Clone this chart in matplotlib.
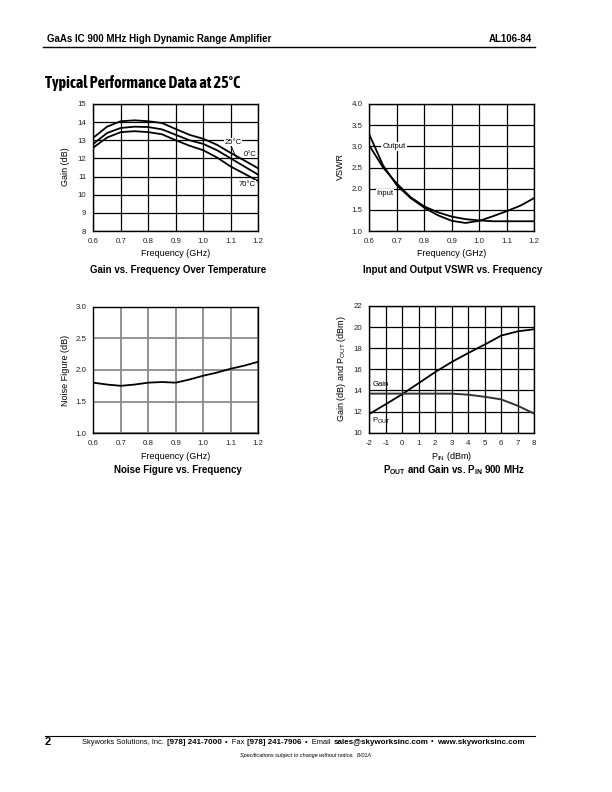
import numpy as np
import matplotlib
matplotlib.use("Agg")
import matplotlib.pyplot as plt
from matplotlib import font_manager

plt.rcParams['font.family'] = ['Liberation Sans', 'DejaVu Sans']

W, H = 612, 792

# --- data ---
freq = [0.6, 0.65, 0.7, 0.75, 0.8, 0.85, 0.9, 0.95, 1.0, 1.05, 1.1, 1.15, 1.2]
gain_25c = [13.14, 13.75, 14.05, 14.1, 14.05, 13.95, 13.62, 13.3, 13.08, 12.75, 12.3, 11.88, 11.45]
gain_0c = [12.8, 13.4, 13.68, 13.75, 13.73, 13.6, 13.3, 13.0, 12.8, 12.45, 12.0, 11.55, 11.1]
gain_70c = [12.6, 13.15, 13.45, 13.5, 13.45, 13.33, 13.0, 12.7, 12.45, 12.05, 11.55, 11.15, 10.75]

vswr_a = [3.28, 2.55, 2.08, 1.78, 1.55, 1.37, 1.24, 1.19, 1.24, 1.35, 1.47, 1.6, 1.78]
vswr_b = [3.02, 2.5, 2.12, 1.8, 1.58, 1.44, 1.34, 1.28, 1.25, 1.23, 1.23, 1.23, 1.23]

nf = [1.8, 1.77, 1.75, 1.77, 1.8, 1.81, 1.8, 1.85, 1.91, 1.96, 2.02, 2.07, 2.13]

pin = [-2, -1, 0, 1, 2, 3, 4, 5, 6, 7, 8]
pout = [11.77, 12.7, 13.65, 14.7, 15.75, 16.7, 17.55, 18.35, 19.2, 19.6, 19.8]
gain_pin = [13.7, 13.7, 13.7, 13.7, 13.7, 13.7, 13.6, 13.4, 13.15, 12.55, 11.8]

# a condensed face for the section title, if one is installed
narrow = None
for f in font_manager.fontManager.ttflist:
    if ('Narrow' in f.name or 'Condensed' in f.name) and f.weight in ('bold', 700):
        narrow = f.fname
        break
if narrow is None:
    for f in font_manager.fontManager.ttflist:
        if 'Narrow' in f.name or 'Condensed' in f.name:
            narrow = f.fname
            break

fig = plt.figure(figsize=(W / 100, H / 100), dpi=100)


def rect(l, t, r, b):
    return [l / W, 1 - b / H, (r - l) / W, (b - t) / H]


def ftext(x, y, s, **kw):
    kw.setdefault('va', 'center')
    return fig.text(x / W, 1 - y / H, s, **kw)


def setup(ax, xlim, ylim, xt, yt, xfmt, yfmt, gcol='black', glw=0.9):
    ax.set_xlim(*xlim)
    ax.set_ylim(*ylim)
    ax.set_xticks(xt)
    ax.set_yticks(yt)
    ax.set_xticklabels([xfmt.format(v) for v in xt])
    ax.set_yticklabels([yfmt.format(v) for v in yt])
    ax.tick_params(length=0, labelsize=5.7, pad=5, labelcolor='#222222')
    ax.grid(True, color=gcol, lw=glw)
    for sp in ax.spines.values():
        sp.set_linewidth(1.0)


# header
ftext(47, 39, "GaAs IC 900 MHz High Dynamic Range Amplifier", fontsize=7, fontweight='bold', ha='left')
ftext(532, 39, "AL106-84", fontsize=7, fontweight='bold', ha='right')
fig.add_artist(plt.Line2D([43 / W, 535 / W], [1 - 47 / H, 1 - 47 / H], color='black', lw=1))
if narrow:
    ftext(45, 83, "Typical Performance Data at 25°C", fontsize=11.5, ha='left',
          fontproperties=font_manager.FontProperties(fname=narrow, size=11.5, weight='bold'))
else:
    ftext(45, 83, "Typical Performance Data at 25°C", fontsize=9.5, fontweight='bold', ha='left')

# gain vs frequency
ax1 = fig.add_axes(rect(93.3, 104, 258.3, 231))
ax1.plot(freq, gain_25c, color='black', lw=1.3)
ax1.plot(freq, gain_0c, color='black', lw=1.3)
ax1.plot(freq, gain_70c, color='black', lw=1.3)
setup(ax1, (0.6, 1.2), (8, 15), np.round(np.arange(0.6, 1.21, 0.1), 1), range(8, 16), "{:.1f}", "{}")
ax1.text(1.107, 12.89, "25°C", fontsize=5.5, ha='center', va='center',
         bbox=dict(fc='white', ec='none', pad=0.3))
ax1.plot([1.1, 1.12], [12.72, 12.05], color='black', lw=0.6)
ax1.text(1.17, 12.22, "0°C", fontsize=5.5, ha='center', va='center',
         bbox=dict(fc='white', ec='none', pad=0.3))
ax1.text(1.16, 10.57, "70°C", fontsize=5.5, ha='center', va='center',
         bbox=dict(fc='white', ec='none', pad=0.3))
ftext(65, 167, "Gain (dB)", fontsize=6.5, rotation=90, ha='center')
ftext(176, 253, "Frequency (GHz)", fontsize=6.5, ha='center')
ftext(178, 270, "Gain vs. Frequency Over Temperature", fontsize=7, fontweight='bold', ha='center')

# vswr vs frequency
ax2 = fig.add_axes(rect(369.3, 104, 534.3, 231))
ax2.plot(freq, vswr_a, color='black', lw=1.3)
ax2.plot(freq, vswr_b, color='black', lw=1.3)
setup(ax2, (0.6, 1.2), (1.0, 4.0), np.round(np.arange(0.6, 1.21, 0.1), 1),
      np.arange(1.0, 4.01, 0.5), "{:.1f}", "{:.1f}")
ax2.text(0.648, 3.0, "Output", fontsize=5.5, ha='left', va='center',
         bbox=dict(fc='white', ec='none', pad=0.8))
ax2.text(0.625, 1.89, "Input", fontsize=5.5, ha='left', va='center',
         bbox=dict(fc='white', ec='none', pad=0.3))
ftext(340, 167, "VSWR", fontsize=6.5, rotation=90, ha='center')
ftext(452, 253, "Frequency (GHz)", fontsize=6.5, ha='center')
ftext(453, 270, "Input and Output VSWR vs. Frequency", fontsize=7, fontweight='bold', ha='center')

# noise figure
ax3 = fig.add_axes(rect(93.3, 306.7, 258.3, 433.3))
ax3.plot(freq, nf, color='black', lw=1.3)
setup(ax3, (0.6, 1.2), (1.0, 3.0), np.round(np.arange(0.6, 1.21, 0.1), 1),
      np.arange(1.0, 3.01, 0.5), "{:.1f}", "{:.1f}", gcol='#8a8a8a', glw=1.3)
ftext(65, 370, "Noise Figure (dB)", fontsize=6.5, rotation=90, ha='center')
ftext(176, 456, "Frequency (GHz)", fontsize=6.5, ha='center')
ftext(178, 470, "Noise Figure vs. Frequency", fontsize=7, fontweight='bold', ha='center')

# pout and gain vs pin
ax4 = fig.add_axes(rect(369.3, 306, 534.3, 432.7))
ax4.plot(pin, pout, color='black', lw=1.3)
ax4.plot(pin, gain_pin, color='#333333', lw=1.4)
setup(ax4, (-2, 8), (10, 22), range(-2, 9), range(10, 23, 2), "{}", "{}")
ax4.text(-1.8, 14.6, "Gain", fontsize=5.5, ha='left', va='center')
ax4.text(-1.85, 11.1, r"P$_{\mathregular{OUT}}$", fontsize=5.5, ha='left', va='center')
ftext(341, 369, r"Gain (dB) and P$_{\mathregular{OUT}}$ (dBm)", fontsize=6.5, rotation=90, ha='center')
ftext(452, 456, r"P$_{\mathregular{IN}}$ (dBm)", fontsize=6.5, ha='center')
ftext(454, 470, r"P$_{\mathregular{OUT}}$ and Gain vs. P$_{\mathregular{IN}}$ 900 MHz", fontsize=7,
      fontweight='bold', ha='center')

# footer
fig.add_artist(plt.Line2D([45 / W, 535 / W], [1 - 736 / H, 1 - 736 / H], color='black', lw=0.8))
ftext(45, 742, "2", fontsize=8, fontweight='bold', ha='left')

pieces = [("Skyworks Solutions, Inc.", 'normal', 5.4), ("[978] 241-7000", 'bold', 5.8),
          ("•  Fax", 'normal', 5.4), ("[978] 241-7906", 'bold', 5.8),
          ("•  Email", 'normal', 5.4), ("sales@skyworksinc.com", 'bold', 5.8),
          ("•", 'normal', 5.4), ("www.skyworksinc.com", 'bold', 5.8)]
renderer = fig.canvas.get_renderer()
x = 82
for s, w, fs in pieces:
    t = ftext(x, 742, s, fontsize=fs, fontweight=w, ha='left')
    x += t.get_window_extent(renderer).width + 3.0
ftext(306, 755, "Specifications subject to change without notice.  8/01A", fontsize=4,
      style='italic', ha='center')

fig.savefig("out.png", dpi=100)
